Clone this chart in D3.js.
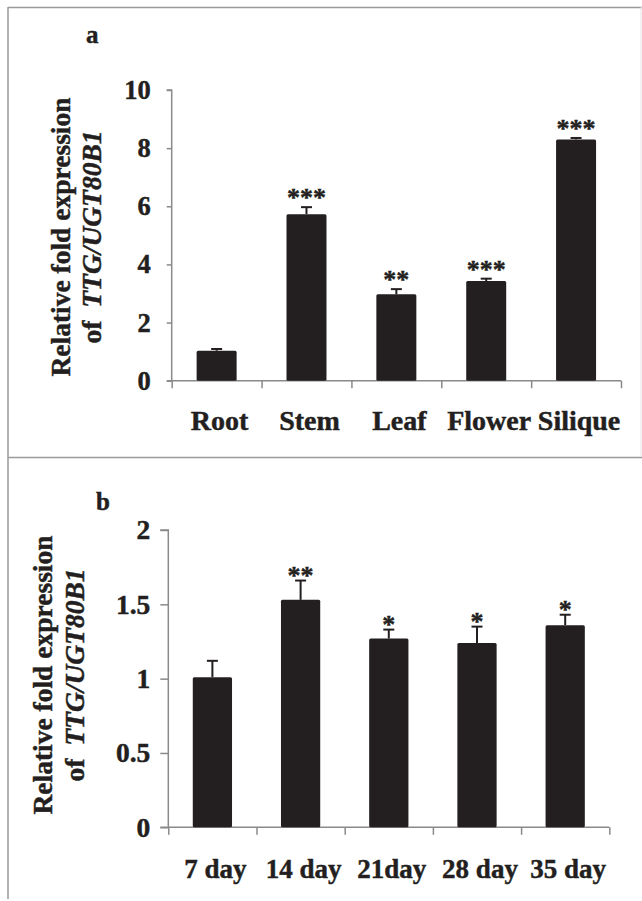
<!DOCTYPE html>
<html>
<head>
<meta charset="utf-8">
<script src="https://cdn.jsdelivr.net/npm/d3@7"></script>
<style>
  html, body { margin: 0; padding: 0; background: #fff; }
  svg { display: block; }
  text { font-family: "Liberation Serif", "Times New Roman", serif; font-weight: bold; fill: #231f20; stroke: #231f20; stroke-width: 0.45px; }
</style>
</head>
<body>
<script>
// ---- data ----
const categoriesA = ["Root", "Stem", "Leaf", "Flower", "Silique"];
const valuesA = [1.03, 5.73, 2.97, 3.43, 8.30];
const errorsA = [0.06, 0.24, 0.18, 0.08, 0.05];
const signifA = ["", "***", "**", "***", "***"];
const ticksA = [0, 2, 4, 6, 8, 10];

const categoriesB = ["7 day", "14 day", "21day", "28 day", "35 day"];
const valuesB = [1.01, 1.53, 1.27, 1.24, 1.36];
const errorsB = [0.11, 0.13, 0.06, 0.11, 0.07];
const signifB = ["", "**", "*", "*", "*"];
const ticksB = [0, 0.5, 1, 1.5, 2];

const W = 642, H = 901;
const ink = "#231f20", axisCol = "#8a8a8a", frameCol = "#9a9a9a";

const svg = d3.select("body").append("svg").attr("width", W).attr("height", H);
svg.append("rect").attr("width", W).attr("height", H).attr("fill", "#fff");

// frame
svg.append("line").attr("x1", 8).attr("x2", W).attr("y1", 7.5).attr("y2", 7.5).attr("stroke", frameCol).attr("stroke-width", 1.5);
svg.append("line").attr("x1", 8).attr("x2", W).attr("y1", 457.5).attr("y2", 457.5).attr("stroke", frameCol).attr("stroke-width", 1.5);
svg.append("line").attr("x1", 8).attr("x2", 8).attr("y1", 7).attr("y2", 899).attr("stroke", frameCol).attr("stroke-width", 1.5);
svg.append("line").attr("x1", 641).attr("x2", 641).attr("y1", 7).attr("y2", 457).attr("stroke", "#e4e4e4").attr("stroke-width", 1);

function panel(cfg) {
  const { cats, vals, errs, sig, ticks, x0, x1, y0, y1, ymax, yTickLen, fmt,
          letter, letterX, letterY, labelX1, labelX2, labelCY, xLabelY, starOffset, tickFont, catFont } = cfg;

  const y = d3.scaleLinear().domain([0, ymax]).range([y0, y1]);
  const xb = d3.scaleBand().domain(cats).range([x0, x1]).paddingInner(0.555).paddingOuter(0.2775);
  const xl = d3.scaleLinear().domain([0, cats.length]).range([x0, x1]);

  const g = svg.append("g");

  // y axis
  const ya = g.append("g").attr("transform", `translate(${x0},0)`)
    .call(d3.axisLeft(y).tickValues(ticks).tickSize(yTickLen).tickPadding(cfg.yPad).tickFormat(fmt));
  ya.select(".domain").attr("stroke", axisCol).attr("stroke-width", 1.5).attr("d", `M${-yTickLen},${y1}H0V${y0}`);
  ya.selectAll(".tick line").attr("stroke", axisCol).attr("stroke-width", 1.5);
  ya.selectAll(".tick text").attr("font-size", tickFont).attr("fill", ink)
    .attr("font-family", "Liberation Serif").attr("font-weight", "bold");

  // x axis (tick marks at category boundaries)
  const xa = g.append("g").attr("transform", `translate(0,${y0})`)
    .call(d3.axisBottom(xl).tickValues(d3.range(cats.length + 1)).tickSize(7.5).tickFormat(""));
  xa.select(".domain").attr("stroke", axisCol).attr("stroke-width", 1.5).attr("d", `M${x0 - yTickLen},0H${x1}`);
  xa.selectAll(".tick line").attr("stroke", axisCol).attr("stroke-width", 1.5);

  // bars
  g.selectAll("rect.bar").data(vals).join("rect").attr("class", "bar")
    .attr("x", (d, i) => xb(cats[i]))
    .attr("width", xb.bandwidth())
    .attr("y", d => y(d))
    .attr("height", d => y(0) - y(d))
    .attr("rx", 1.5)
    .attr("fill", ink);

  // error bars (upper only)
  const cx = i => xb(cats[i]) + xb.bandwidth() / 2;
  g.selectAll("line.err").data(vals).join("line").attr("class", "err")
    .attr("x1", (d, i) => cx(i)).attr("x2", (d, i) => cx(i))
    .attr("y1", d => y(d)).attr("y2", (d, i) => y(d + errs[i]))
    .attr("stroke", ink).attr("stroke-width", 2);
  g.selectAll("line.cap").data(vals).join("line").attr("class", "cap")
    .attr("x1", (d, i) => cx(i) - 5.5).attr("x2", (d, i) => cx(i) + 5.5)
    .attr("y1", (d, i) => y(d + errs[i])).attr("y2", (d, i) => y(d + errs[i]))
    .attr("stroke", ink).attr("stroke-width", 2);

  // significance stars
  g.selectAll("text.sig").data(sig).join("text").attr("class", "sig")
    .attr("x", (d, i) => cx(i))
    .attr("y", (d, i) => y(vals[i] + errs[i]) + starOffset)
    .attr("text-anchor", "middle").attr("font-size", 26)
    .text(d => d);

  // category labels
  g.selectAll("text.cat").data(cats).join("text").attr("class", "cat")
    .attr("x", d => xb(d) + xb.bandwidth() / 2 + 3)
    .attr("y", xLabelY)
    .attr("text-anchor", "middle").attr("font-size", catFont)
    .text(d => d);

  // panel letter
  g.append("text").attr("x", letterX).attr("y", letterY).attr("font-size", 25).text(letter);

  // y axis title
  g.append("text").attr("transform", `translate(${labelX1},${labelCY}) rotate(-90)`)
    .attr("text-anchor", "middle").attr("font-size", 27.5).text("Relative fold expression");
  const t2 = g.append("text").attr("transform", `translate(${labelX2},${labelCY}) rotate(-90)`)
    .attr("text-anchor", "middle").attr("font-size", 27.5);
  t2.append("tspan").text("of ");
  t2.append("tspan").attr("dx", 6).attr("font-style", "italic").text("TTG/UGT80B1");
}

panel({
  cats: categoriesA, vals: valuesA, errs: errorsA, sig: signifA, ticks: ticksA,
  x0: 171.7, x1: 621, y0: 380.7, y1: 90, ymax: 10, yTickLen: 5, yPad: 16, fmt: d3.format("d"),
  letter: "a", letterX: 86, letterY: 43, labelX1: 70, labelX2: 101, labelCY: 237,
  xLabelY: 430, starOffset: -1, tickFont: 26.5, catFont: 28
});

panel({
  cats: categoriesB, vals: valuesB, errs: errorsB, sig: signifB, ticks: ticksB,
  x0: 168.3, x1: 609.3, y0: 827.3, y1: 530, ymax: 2, yTickLen: 8, yPad: 10, fmt: d => String(d),
  letter: "b", letterX: 96, letterY: 510, labelX1: 52, labelX2: 84, labelCY: 675,
  xLabelY: 878, starOffset: 3, tickFont: 27.5, catFont: 27
});
</script>
</body>
</html>
